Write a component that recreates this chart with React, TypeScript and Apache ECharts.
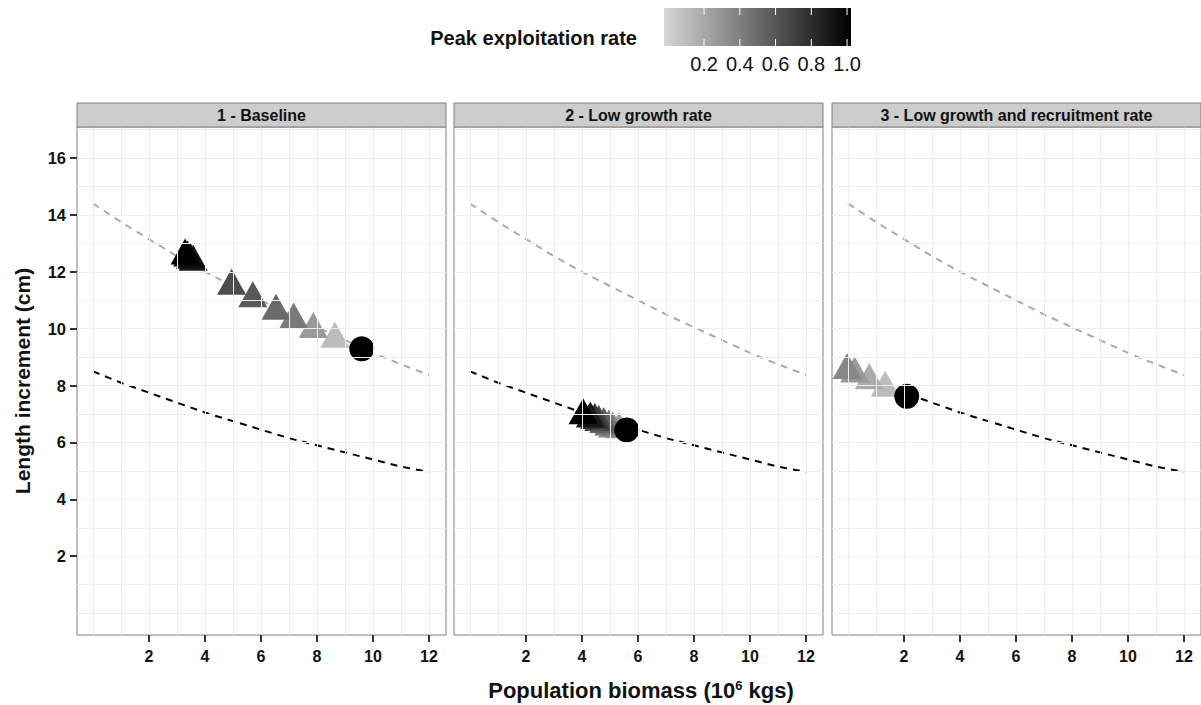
import React, { useEffect, useRef } from "react";
import * as echarts from "echarts";

// ---- data ----
const xTicks = [2, 4, 6, 8, 10, 12];
const yTicks = [2, 4, 6, 8, 10, 12, 14, 16];
const xGridLines = [0, 1, 2, 3, 4, 5, 6, 7, 8, 9, 10, 11, 12];
const yGridLines = [0, 1, 2, 3, 4, 5, 6, 7, 8, 9, 10, 11, 12, 13, 14, 15, 16, 17];

const curveX = [0, 1, 2, 3, 4, 5, 6, 7, 8, 9, 10, 11, 12];
const highCurve = [14.4, 13.75, 13.15, 12.55, 12.0, 11.5, 11.0, 10.5, 10.05, 9.6, 9.15, 8.75, 8.37];
const lowCurve = [8.5, 8.1, 7.75, 7.4, 7.05, 6.75, 6.45, 6.15, 5.9, 5.65, 5.4, 5.15, 4.96];

const panelTitles = ["1 - Baseline", "2 - Low growth rate", "3 - Low growth and recruitment rate"];

// triangles: biomass, length increment, peak exploitation rate
const p1TriX = [8.64, 7.87, 7.17, 6.54, 5.71, 4.95, 3.58, 3.48, 3.38, 3.29];
const p1TriY = [9.79, 10.13, 10.46, 10.77, 11.21, 11.65, 12.49, 12.56, 12.64, 12.71];
const p1TriRate = [0.11, 0.27, 0.42, 0.5, 0.58, 0.64, 0.88, 0.92, 0.96, 1.0];
const p1Circle = [9.6, 9.29];

const p2TriX = [5.32, 5.1, 4.96, 4.78, 4.6, 4.46, 4.3, 4.04];
const p2TriY = [6.6, 6.63, 6.7, 6.79, 6.86, 6.93, 6.98, 7.1];
const p2TriRate = [0.25, 0.35, 0.45, 0.55, 0.65, 0.75, 0.88, 1.0];
const p2Circle = [5.6, 6.44];

const p3TriX = [1.33, 0.76, 0.24, -0.03];
const p3TriY = [8.06, 8.33, 8.56, 8.69];
const p3TriRate = [0.11, 0.19, 0.27, 0.36];
const p3Circle = [2.1, 7.62];

const legendTicks = [0.2, 0.4, 0.6, 0.8, 1.0];

const FONT = "'Liberation Sans', Arial, Helvetica, sans-serif";

export default function App() {
  const ref = useRef<HTMLDivElement>(null);

  useEffect(() => {
    if (!ref.current) return;
    const chart = echarts.init(ref.current, null, { renderer: "svg" });

    const panelLeft = [77, 454, 832];
    const panelTop = 127;
    const panelW = 369;
    const panelH = 508;

    const tris = [
      { x: p1TriX, y: p1TriY, r: p1TriRate, c: p1Circle },
      { x: p2TriX, y: p2TriY, r: p2TriRate, c: p2Circle },
      { x: p3TriX, y: p3TriY, r: p3TriRate, c: p3Circle },
    ];

    const grids = panelLeft.map((l) => ({
      left: l,
      top: panelTop,
      width: panelW,
      height: panelH,
      show: true,
      backgroundColor: "#ffffff",
      borderColor: "#7f7f7f",
      borderWidth: 1,
      z: 0,
    }));

    const xAxes = panelLeft.map((_, i) => ({
      type: "value",
      gridIndex: i,
      position: "bottom",
      min: -0.57,
      max: 12.61,
      axisLine: { show: false, onZero: false },
      splitLine: { show: false },
      axisTick: {
        show: true,
        inside: false,
        customValues: xTicks,
        length: 7,
        lineStyle: { color: "#333", width: 2 },
      },
      axisLabel: {
        show: true,
        customValues: xTicks,
        margin: 13,
        color: "#111",
        fontWeight: "bold",
        fontSize: 16,
        fontFamily: FONT,
      },
    }));

    const yAxes = panelLeft.map((_, i) => ({
      type: "value",
      gridIndex: i,
      position: "left",
      min: -0.77,
      max: 17.09,
      axisLine: { show: false, onZero: false },
      splitLine: { show: false },
      axisTick: {
        show: i === 0,
        inside: false,
        customValues: yTicks,
        length: 7,
        lineStyle: { color: "#333", width: 2 },
      },
      axisLabel: {
        show: i === 0,
        customValues: yTicks,
        margin: 11,
        color: "#111",
        fontWeight: "bold",
        fontSize: 16.5,
        fontFamily: FONT,
      },
    }));

    const series: any[] = [];
    const triSeriesIdx: number[] = [];

    panelLeft.forEach((_, i) => {
      // background grid lines
      series.push({
        type: "line",
        xAxisIndex: i,
        yAxisIndex: i,
        data: [],
        silent: true,
        z: 1,
        markLine: {
          silent: true,
          symbol: ["none", "none"],
          label: { show: false },
          emphasis: { disabled: true },
          lineStyle: { color: "#ededed", width: 1, type: "solid" },
          data: [
            ...xGridLines.map((v) => ({ xAxis: v })),
            ...yGridLines.map((v) => ({ yAxis: v })),
          ],
        },
      });
      series.push({
        type: "line",
        xAxisIndex: i,
        yAxisIndex: i,
        data: curveX.map((x, k) => [x, highCurve[k]]),
        showSymbol: false,
        smooth: false,
        silent: true,
        z: 2,
        lineStyle: { color: "#aaaaaa", width: 2, type: [7, 6] },
      });
      series.push({
        type: "line",
        xAxisIndex: i,
        yAxisIndex: i,
        data: curveX.map((x, k) => [x, lowCurve[k]]),
        showSymbol: false,
        smooth: false,
        silent: true,
        z: 2,
        lineStyle: { color: "#000000", width: 2, type: [7, 6] },
      });
      const t = tris[i];
      triSeriesIdx.push(series.length);
      series.push({
        type: "scatter",
        xAxisIndex: i,
        yAxisIndex: i,
        symbol: "triangle",
        symbolSize: [29, 26],
        z: 3,
        itemStyle: { opacity: 1 },
        data: t.x.map((x, k) => [x, t.y[k], t.r[k]]),
      });
      series.push({
        type: "scatter",
        xAxisIndex: i,
        yAxisIndex: i,
        symbol: "circle",
        symbolSize: 25,
        z: 4,
        itemStyle: { color: "#000000", opacity: 1 },
        data: [t.c],
      });
    });

    // legend colour bar geometry
    const lgX0 = 668.3;
    const lgUnit = 178.75;
    const barLeft = lgX0 + lgUnit * -0.024;
    const barRight = lgX0 + lgUnit * 1.022;
    const barTop = 8;
    const barH = 38;

    const graphics: any[] = [];
    panelLeft.forEach((l, i) => {
      graphics.push({
        type: "rect",
        shape: { x: l, y: 103, width: panelW, height: 24 },
        style: { fill: "#cccccc", stroke: "#7f7f7f", lineWidth: 1 },
        z: 10,
      });
      graphics.push({
        type: "text",
        x: l + panelW / 2,
        y: 115,
        style: {
          text: panelTitles[i],
          fontFamily: FONT,
          fontWeight: "bold",
          fontSize: 16,
          fill: "#111",
          align: "center",
          verticalAlign: "middle",
        },
        z: 11,
      });
    });
    graphics.push({
      type: "rect",
      shape: { x: barLeft, y: barTop, width: barRight - barLeft, height: barH },
      style: {
        fill: new echarts.graphic.LinearGradient(0, 0, 1, 0, [
          { offset: 0, color: "#d6d6d6" },
          { offset: 1, color: "#000000" },
        ]),
      },
      z: 10,
    });
    legendTicks.forEach((v) => {
      const x = lgX0 + lgUnit * v;
      graphics.push({
        type: "line",
        shape: { x1: x, y1: barTop, x2: x, y2: barTop + 7 },
        style: { stroke: "#ffffff", lineWidth: 1 },
        z: 11,
      });
      graphics.push({
        type: "line",
        shape: { x1: x, y1: barTop + barH - 7, x2: x, y2: barTop + barH },
        style: { stroke: "#ffffff", lineWidth: 1 },
        z: 11,
      });
      graphics.push({
        type: "text",
        x,
        y: 64,
        style: {
          text: v.toFixed(1),
          fontFamily: FONT,
          fontSize: 20,
          fill: "#111",
          align: "center",
          verticalAlign: "middle",
        },
        z: 11,
      });
    });
    graphics.push({
      type: "text",
      x: 637,
      y: 38,
      style: {
        text: "Peak exploitation rate",
        fontFamily: FONT,
        fontWeight: "bold",
        fontSize: 20,
        fill: "#111",
        align: "right",
        verticalAlign: "middle",
      },
      z: 11,
    });
    graphics.push({
      type: "text",
      x: 22,
      y: 381,
      rotation: Math.PI / 2,
      style: {
        text: "Length increment (cm)",
        fontFamily: FONT,
        fontWeight: "bold",
        fontSize: 21,
        fill: "#111",
        align: "center",
        verticalAlign: "middle",
      },
      z: 11,
    });
    graphics.push({
      type: "text",
      x: 641,
      y: 690,
      style: {
        text: "{a|Population biomass (10}{s|6}{a| kgs)}",
        rich: {
          a: { fontFamily: FONT, fontWeight: "bold", fontSize: 22, fill: "#111", color: "#111" },
          s: { fontFamily: FONT, fontWeight: "bold", fontSize: 13, fill: "#111", color: "#111", verticalAlign: "top" },
        },
        align: "center",
        verticalAlign: "middle",
      },
      z: 11,
    });

    chart.setOption({
      animation: false,
      backgroundColor: "#ffffff",
      grid: grids,
      xAxis: xAxes,
      yAxis: yAxes,
      visualMap: {
        type: "continuous",
        show: false,
        min: 0,
        max: 1,
        dimension: 2,
        seriesIndex: triSeriesIdx,
        inRange: { color: ["#d3d3d3", "#000000"] },
      },
      series,
      graphic: graphics,
    });

    return () => chart.dispose();
  }, []);

  return (
    <div
      ref={ref}
      style={{ position: "absolute", left: 0, top: 0, width: 1201, height: 705 }}
    />
  );
}
